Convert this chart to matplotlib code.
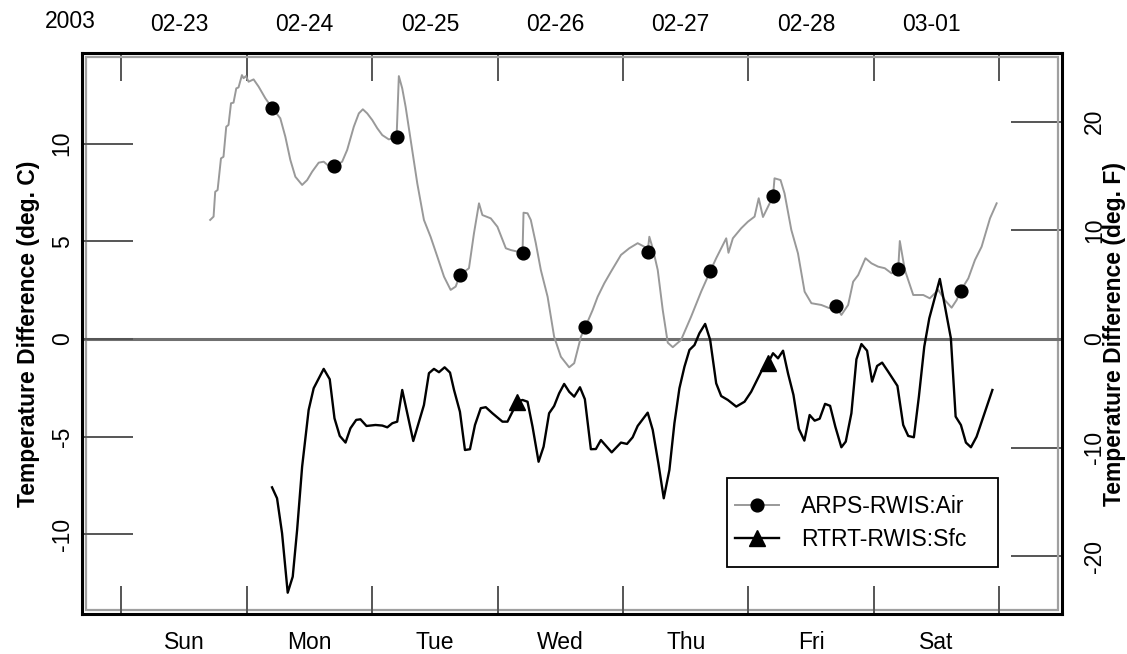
import numpy as np
import matplotlib
matplotlib.use('Agg')
import matplotlib.pyplot as plt
from matplotlib.patches import Rectangle
from matplotlib.lines import Line2D

plt.rcParams['font.family'] = ['Liberation Sans', 'DejaVu Sans']

# ---------------- data ----------------
day_names = ['Sun', 'Mon', 'Tue', 'Wed', 'Thu', 'Fri', 'Sat']
date_labels = ['02-23', '02-24', '02-25', '02-26', '02-27', '02-28', '03-01']
year_label = '2003'

# ARPS-RWIS:Air  (days since 2003-02-23 00:00, temperature difference deg C)
air_day = [0.709, 0.736, 0.749, 0.768, 0.795, 0.815, 0.837, 0.855, 0.875, 0.895,
           0.917, 0.935, 0.962, 0.975, 0.994, 1.015, 1.055, 1.095, 1.149, 1.202,
           1.268, 1.308, 1.348, 1.388, 1.442, 1.482, 1.522, 1.574, 1.614, 1.654,
           1.700, 1.761, 1.801, 1.854, 1.894, 1.926, 1.961, 2.001, 2.041, 2.081,
           2.133, 2.195, 2.213, 2.240, 2.267, 2.307, 2.360, 2.413, 2.466, 2.520,
           2.573, 2.626, 2.666, 2.700, 2.772, 2.812, 2.852, 2.879, 2.946, 2.999,
           3.066, 3.105, 3.159, 3.199, 3.207, 3.239, 3.265, 3.305, 3.345, 3.399,
           3.451, 3.505, 3.571, 3.611, 3.665, 3.699, 3.758, 3.798, 3.851, 3.904,
           3.984, 4.050, 4.117, 4.170, 4.197, 4.210, 4.237, 4.277, 4.317, 4.357,
           4.397, 4.463, 4.543, 4.623, 4.695, 4.743, 4.783, 4.823, 4.841, 4.876,
           4.942, 4.996, 5.049, 5.082, 5.116, 5.156, 5.196, 5.208, 5.256, 5.288,
           5.342, 5.395, 5.448, 5.502, 5.581, 5.648, 5.696, 5.741, 5.795, 5.835,
           5.875, 5.933, 5.981, 6.034, 6.087, 6.141, 6.194, 6.207, 6.247, 6.314,
           6.394, 6.446, 6.514, 6.566, 6.620, 6.660, 6.692, 6.753, 6.806, 6.859,
           6.926, 6.979]
air_val = [6.09, 6.26, 7.53, 7.62, 9.24, 9.32, 10.86, 10.95, 12.06, 12.09,
           12.82, 12.87, 13.50, 13.34, 13.45, 13.16, 13.28, 12.91, 12.31, 11.83,
           11.29, 10.35, 9.16, 8.30, 7.88, 8.13, 8.56, 9.02, 9.07, 8.85,
           8.83, 9.07, 9.67, 10.86, 11.54, 11.75, 11.54, 11.20, 10.78, 10.43,
           10.21, 10.32, 13.45, 12.82, 11.88, 10.18, 7.96, 6.09, 5.23, 4.21,
           3.19, 2.51, 2.68, 3.27, 3.62, 5.41, 6.94, 6.34, 6.17, 5.74,
           4.64, 4.55, 4.47, 4.40, 6.46, 6.43, 6.09, 4.90, 3.53, 2.16,
           0.12, -0.91, -1.45, -1.24, 0.12, 0.60, 1.48, 2.16, 2.85, 3.44,
           4.30, 4.64, 4.90, 4.72, 4.47, 5.23, 4.64, 3.53, 1.48, -0.19,
           -0.42, -0.05, 1.14, 2.42, 3.46, 4.13, 4.64, 5.15, 4.41, 5.15,
           5.66, 6.00, 6.26, 7.20, 6.24, 6.77, 7.29, 8.22, 8.13, 7.45,
           5.58, 4.38, 2.42, 1.83, 1.74, 1.57, 1.69, 1.23, 1.74, 2.93,
           3.27, 4.13, 3.87, 3.70, 3.62, 3.36, 3.57, 5.01, 3.53, 2.25,
           2.25, 2.08, 2.51, 1.99, 1.60, 1.99, 2.47, 3.10, 4.04, 4.72,
           6.17, 6.94]
air_mark_day = [1.2, 1.7, 2.2, 2.7, 3.2, 3.7, 4.2, 4.7, 5.2, 5.7, 6.2, 6.7]

# RTRT-RWIS:Sfc
sfc_day = [1.202, 1.242, 1.282, 1.327, 1.367, 1.402, 1.442, 1.494, 1.534, 1.614,
           1.662, 1.700, 1.742, 1.788, 1.827, 1.873, 1.907, 1.955, 2.027, 2.081,
           2.121, 2.161, 2.200, 2.240, 2.328, 2.413, 2.453, 2.493, 2.533, 2.578,
           2.621, 2.653, 2.700, 2.740, 2.780, 2.820, 2.866, 2.906, 2.959, 3.039,
           3.079, 3.159, 3.199, 3.239, 3.279, 3.327, 3.367, 3.411, 3.451, 3.491,
           3.531, 3.571, 3.611, 3.657, 3.696, 3.744, 3.784, 3.824, 3.910, 3.984,
           4.032, 4.077, 4.117, 4.197, 4.237, 4.282, 4.325, 4.370, 4.410, 4.450,
           4.490, 4.530, 4.570, 4.609, 4.655, 4.695, 4.743, 4.783, 4.836, 4.903,
           4.969, 5.022, 5.102, 5.156, 5.196, 5.236, 5.276, 5.316, 5.359, 5.402,
           5.446, 5.488, 5.528, 5.568, 5.611, 5.651, 5.693, 5.741, 5.776, 5.821,
           5.861, 5.901, 5.946, 5.986, 6.026, 6.066, 6.114, 6.188, 6.234, 6.274,
           6.319, 6.359, 6.402, 6.442, 6.526, 6.614, 6.652, 6.694, 6.734, 6.774,
           6.819, 6.945]
sfc_val = [-7.59, -8.15, -9.94, -12.98, -12.16, -9.77, -6.53, -3.63, -2.52, -1.53,
           -2.06, -4.06, -4.96, -5.30, -4.57, -4.14, -4.11, -4.45, -4.40, -4.43,
           -4.52, -4.31, -4.23, -2.61, -5.22, -3.38, -1.75, -1.53, -1.70, -1.45,
           -1.72, -2.61, -3.72, -5.68, -5.64, -4.40, -3.54, -3.49, -3.80, -4.23,
           -4.23, -3.21, -3.12, -3.21, -4.49, -6.28, -5.51, -3.80, -3.43, -2.78,
           -2.30, -2.70, -2.95, -2.47, -3.08, -5.64, -5.63, -5.17, -5.80, -5.30,
           -5.37, -5.03, -4.45, -3.77, -4.65, -6.36, -8.15, -6.70, -4.31, -2.52,
           -1.42, -0.56, -0.31, 0.29, 0.77, -0.05, -2.27, -2.92, -3.12, -3.46,
           -3.21, -2.70, -1.67, -1.24, -0.73, -0.99, -0.60, -1.77, -2.86, -4.60,
           -5.20, -3.89, -4.18, -4.08, -3.32, -3.42, -4.49, -5.54, -5.25, -3.80,
           -1.04, -0.26, -0.60, -2.18, -1.38, -1.21, -1.67, -2.40, -4.40, -4.96,
           -5.03, -2.95, -0.39, 1.06, 3.07, 0.04, -3.97, -4.40, -5.30, -5.54,
           -5.00, -2.61]
sfc_mark_day = [3.16, 5.16]

yticks_c = [-10, -5, 0, 5, 10]
yticks_f = [-20, -10, 0, 10, 20]
series_names = ['ARPS-RWIS:Air', 'RTRT-RWIS:Sfc']

# ---------------- figure ----------------
W, H = 1127, 654
fig = plt.figure(figsize=(W / 100, H / 100), dpi=100)
L, R, T, B = 82, 1062, 53, 614
ax = fig.add_axes([L / W, 1 - B / H, (R - L) / W, (B - T) / H])

FS = 16.5
TICKC = '#555555'
AIRC = '#999999'

ax.set_xlim(-0.313, 7.50)
ax.set_ylim(-14.07, 14.63)

ax.axhline(0, color='#707070', lw=2.2, zorder=1)

air_day_a = np.asarray(air_day)
air_val_a = np.asarray(air_val)
sfc_day_a = np.asarray(sfc_day)
sfc_val_a = np.asarray(sfc_val)
air_idx = [int(np.argmin(np.abs(air_day_a - t))) for t in air_mark_day]
sfc_idx = [int(np.argmin(np.abs(sfc_day_a - t))) for t in sfc_mark_day]

ax.plot(air_day_a, air_val_a, color=AIRC, lw=1.4, zorder=2)
ax.plot(air_day_a[air_idx], air_val_a[air_idx], 'o', color='black', ms=9.2, zorder=4)
ax.plot(sfc_day_a, sfc_val_a, color='black', lw=1.7, zorder=3)
ax.plot(sfc_day_a[sfc_idx], sfc_val_a[sfc_idx], '^', color='black', ms=11, zorder=4)

# x axis (bottom): day ticks at midnight, day names at noon
ax.set_xticks(range(8))
ax.set_xticklabels([])
ax.set_xticks(np.arange(7) + 0.5, minor=True)
ax.set_xticklabels(day_names, minor=True, fontsize=FS)
ax.tick_params(axis='x', which='major', direction='in', length=20, width=1.4,
               color=TICKC, bottom=True, top=False)
ax.tick_params(axis='x', which='minor', length=0, pad=12)

# top axis with dates
top = ax.secondary_xaxis('top')
top.set_xticks(range(8))
top.set_xticklabels([])
top.set_xticks(np.arange(7) + 0.46, minor=True)
top.set_xticklabels(date_labels, minor=True, fontsize=FS)
top.tick_params(axis='x', which='major', direction='in', length=20, width=1.4, color=TICKC)
top.tick_params(axis='x', which='minor', length=0, pad=12)
top.spines['top'].set_visible(False)
fig.text(70 / W, 1 - 22 / H, year_label, fontsize=FS, ha='center', va='center')

# left y axis (deg C)
ax.set_yticks(yticks_c)
ax.set_yticklabels([str(v) for v in yticks_c], fontsize=FS, rotation=90, va='center')
ax.tick_params(axis='y', direction='in', length=37, width=1.4, color=TICKC, pad=6)
ax.set_ylabel('Temperature Difference (deg. C)', fontsize=FS, fontweight='bold')
ax.yaxis.set_label_coords(-0.043, 0.5)

# right y axis (deg F)
right = ax.secondary_yaxis('right', functions=(lambda c: c * 1.8, lambda f: f / 1.8))
right.set_yticks(yticks_f)
right.set_yticklabels([str(v) for v in yticks_f], fontsize=FS, rotation=90, va='center')
right.tick_params(axis='y', direction='in', length=37, width=1.4, color=TICKC, pad=15)
right.spines['right'].set_visible(False)
fig.text(1115 / W, 1 - ((T + B) / 2) / H, 'Temperature Difference (deg. F)',
         fontsize=FS, fontweight='bold', rotation=90, ha='center', va='center')

for s in ax.spines.values():
    s.set_linewidth(2.2)
    s.set_color('black')

# inner gray frame line
dx, dy = 4 / (R - L), 4 / (B - T)
ax.add_patch(Rectangle((dx, dy), 1 - 2 * dx, 1 - 2 * dy, transform=ax.transAxes,
                       fill=False, ec='#a0a0a0', lw=1.6, zorder=0.5, clip_on=False))

# legend
handles = [Line2D([], [], color=AIRC, lw=1.4, marker='o', ms=9.2, mfc='black', mec='black'),
           Line2D([], [], color='black', lw=1.7, marker='^', ms=11, mfc='black', mec='black')]
ax.legend(handles, series_names, loc='center left', bbox_to_anchor=(0.6663, 0.1617),
          frameon=False, handlelength=1.9, handletextpad=1.0, labelspacing=0.45,
          borderpad=0, borderaxespad=0, fontsize=FS, numpoints=1)
ax.add_patch(Rectangle((0.6579, 0.0843), 0.2771, 0.1576, transform=ax.transAxes,
                       fill=False, ec='black', lw=1.3, zorder=5))

fig.savefig('out.png', dpi=100)
